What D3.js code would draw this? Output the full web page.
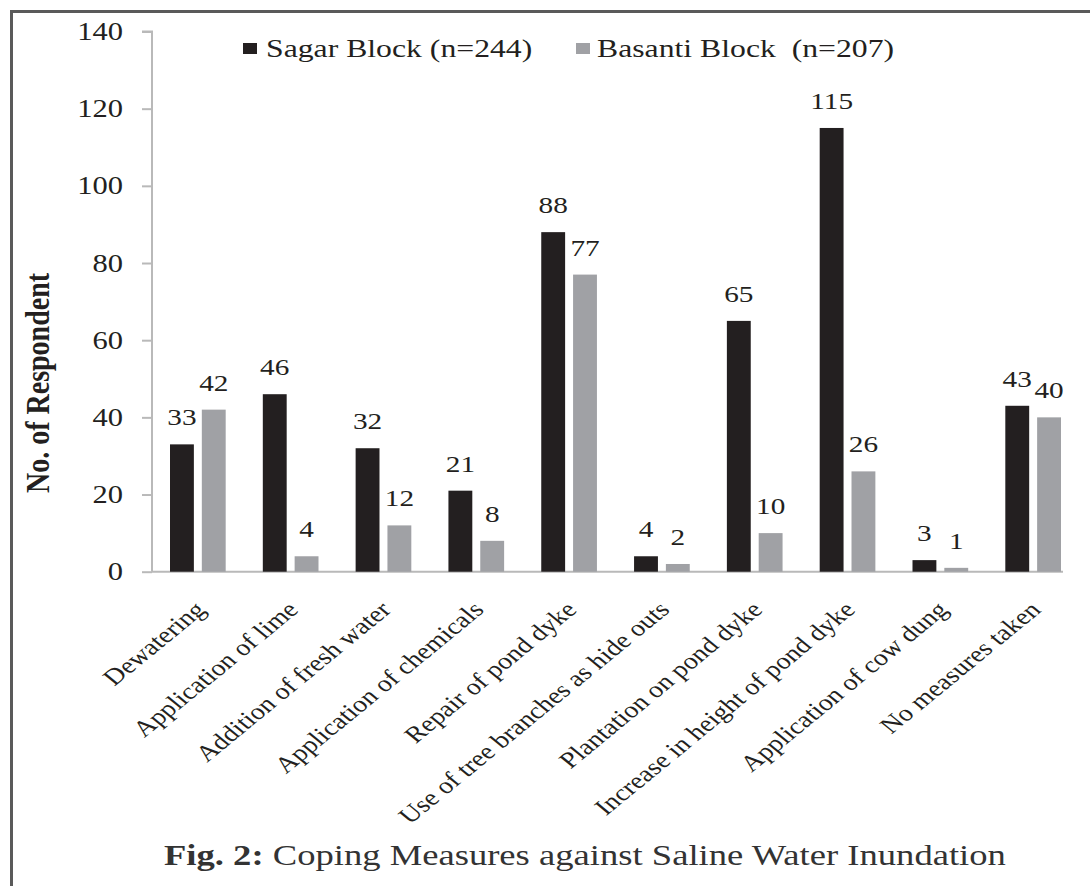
<!DOCTYPE html>
<html>
<head>
<meta charset="utf-8">
<script src="https://cdn.jsdelivr.net/npm/d3@7"></script>
<style>
  html, body { margin: 0; padding: 0; background: #fff; }
  svg { display: block; }
  text { font-family: "Liberation Serif", "Times New Roman", serif; white-space: pre; }
</style>
</head>
<body>
<svg id="chart" width="1090" height="886"></svg>
<script>
// ---- data ----
const categories = [
  "Dewatering",
  "Application of lime",
  "Addition of fresh water",
  "Application of chemicals",
  "Repair of pond dyke",
  "Use of tree branches as hide outs",
  "Plantation on pond dyke",
  "Increase in height of pond dyke",
  "Application of cow dung",
  "No measures taken"
];
const seriesNames = ["Sagar Block (n=244)", "Basanti Block  (n=207)"];
const sagarValues   = [33, 46, 32, 21, 88, 4, 65, 115, 3, 43];
const basantiValues = [42, 4, 12, 8, 77, 2, 10, 26, 1, 40];
const yTicks = [0, 20, 40, 60, 80, 100, 120, 140];
const yAxisTitle = "No. of Respondent";
const figLabel = "Fig. 2:";
const figTitle = " Coping Measures against Saline Water Inundation";

// ---- layout / style ----
const S = 1.22;                // horizontal stretch of the original scan
const colors = ["#231f20", "#a0a1a5"];
const textColor = "#231f20";
const axisColor = "#b9b9b9";

const svg = d3.select("#chart");

// frame (cropped box)
svg.append("path")
  .attr("d", "M11.5,1090 L11.5,11.5 L1090,11.5")
  .attr("fill", "none").attr("stroke", "#5a5a5a").attr("stroke-width", 3);

const axisX = 152, axisEnd = 1063;
const y = d3.scaleLinear().domain([0, 140]).range([571.7, 31.5]);
const x0 = d3.scaleBand().domain(categories).range([170, 1061]).paddingInner(0.4).paddingOuter(0);
const x1 = d3.scaleBand().domain([0, 1]).range([0, x0.bandwidth()]).paddingInner(0.25);

const table = categories.map((c, i) => ({ cat: c, vals: [sagarValues[i], basantiValues[i]] }));

// stretched text helper
function sText(parent, tx, ty, str, opts) {
  const g = parent.append("g")
    .attr("transform", `translate(${tx},${ty}) scale(${S},1)` + (opts.rotate ? ` rotate(${opts.rotate})` : ""));
  const t = g.append("text")
    .attr("text-anchor", opts.anchor || "start")
    .attr("font-size", opts.size)
    .attr("font-weight", opts.weight || "normal")
    .attr("fill", opts.color || textColor)
    .attr("dy", opts.dy || 0)
    .text(str);
  return t;
}

// y axis
const yAxis = d3.axisLeft(y).tickValues(yTicks).tickSize(10).tickFormat("");
const yg = svg.append("g").attr("transform", `translate(${axisX},0)`).call(yAxis);
yg.selectAll("path, line").attr("stroke", axisColor).attr("stroke-width", 2);
yg.select(".domain").attr("d", `M-10,${y(140)}H0V${y(0)}`);
yTicks.forEach(v => sText(svg, 123, y(v), String(v), { anchor: "end", size: 25, dy: "0.34em" }));

// x axis line
svg.append("line")
  .attr("x1", axisX).attr("x2", axisEnd)
  .attr("y1", y(0)).attr("y2", y(0))
  .attr("stroke", axisColor).attr("stroke-width", 2);

// bars
const groups = svg.append("g").selectAll("g").data(table).join("g")
  .attr("transform", d => `translate(${x0(d.cat)},0)`);
groups.selectAll("rect").data(d => d.vals.map((v, k) => ({ v, k }))).join("rect")
  .attr("x", d => x1(d.k))
  .attr("width", x1.bandwidth())
  .attr("y", d => y(d.v))
  .attr("height", d => y(0) - y(d.v))
  .attr("fill", d => colors[d.k]);

// value labels
table.forEach(d => {
  d.vals.forEach((v, k) => {
    sText(svg, x0(d.cat) + x1(k) + x1.bandwidth() / 2, y(v) - 19, String(v), { anchor: "middle", size: 24 });
  });
});

// category labels
categories.forEach(c => {
  sText(svg, x0(c) + x0.bandwidth() / 2 + 9, 611, c, { anchor: "end", size: 23, rotate: -45 });
});

// y axis title
sText(svg, 49, 383, yAxisTitle, { anchor: "middle", size: 28, weight: "bold", rotate: -90 });

// legend
const legendItems = [
  { name: seriesNames[0], color: colors[0], sx: 243, tx: 266 },
  { name: seriesNames[1], color: colors[1], sx: 576, tx: 597 }
];
legendItems.forEach(it => {
  svg.append("rect").attr("x", it.sx).attr("y", 43).attr("width", 14).attr("height", 11).attr("fill", it.color);
  sText(svg, it.tx, 57, it.name, { anchor: "start", size: 26 });
});

// figure caption
const cap = svg.append("g").attr("transform", `translate(164,865) scale(${S},1)`)
  .append("text").attr("font-size", 30).attr("fill", "#333");
cap.append("tspan").attr("font-weight", "bold").text(figLabel);
cap.append("tspan").text(figTitle);
</script>
</body>
</html>
